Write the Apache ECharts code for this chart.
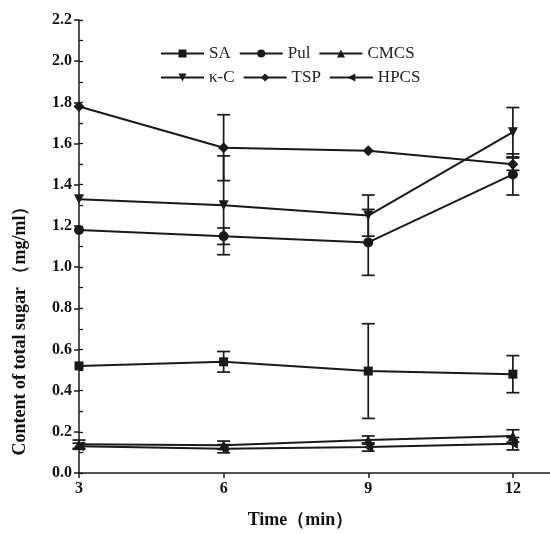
<!DOCTYPE html>
<html>
<head>
<meta charset="utf-8">
<script src="https://cdn.jsdelivr.net/npm/echarts@6/dist/echarts.min.js"></script>
<style>
  html, body { margin: 0; padding: 0; background: #fff; }
  #chart { width: 550px; height: 534px; }
</style>
</head>
<body>
<div id="chart"></div>
<script>
  // time points (min)
  var times = [3, 6, 9, 12]
  var xTicks = [3, 6, 9, 12]

  // total sugar content (mg/ml) and error bars
  var SA = [0.52, 0.54, 0.495, 0.48]
  var SAErr = [0, 0.05, 0.23, 0.09]
  var Pul = [1.18, 1.15, 1.12, 1.45]
  var PulErr = [0, 0.04, 0.16, 0.1]
  var CMCS = [0.14, 0.135, 0.16, 0.18]
  var CMCSErr = [0.02, 0.02, 0.02, 0.03]
  var KC = [1.33, 1.3, 1.25, 1.655]
  var KCErr = [0, 0.24, 0.1, 0.12]
  var TSP = [1.78, 1.58, 1.565, 1.5]
  var TSPErr = [0, 0.16, 0, 0.03]
  var HPCS = [0.13, 0.118, 0.126, 0.142]
  var HPCSErr = [0.015, 0.02, 0.02, 0.03]

  var ink = '#1a1a1a'
  var font = 'Liberation Serif'

  function pairs(ys) {
    return times.map(function (t, i) { return [t, ys[i]] })
  }
  function errData(ys, es) {
    return times.map(function (t, i) { return [t, ys[i], es[i]] })
  }

  function lineSeries(name, ys, symbol, rotate, size) {
    return {
      name: name,
      type: 'line',
      data: pairs(ys),
      symbol: symbol,
      symbolSize: size || 9,
      symbolRotate: rotate || 0,
      itemStyle: { color: ink },
      lineStyle: { color: ink, width: 2 },
      z: 3
    }
  }

  function errSeries(name, ys, es) {
    return {
      name: name + ' err',
      type: 'custom',
      data: errData(ys, es),
      z: 2,
      renderItem: function (params, api) {
        var e = api.value(2)
        if (!e) return
        var x = api.value(0), y = api.value(1)
        var hi = api.coord([x, y + e])
        var lo = api.coord([x, y - e])
        var w = 6.5
        var st = { stroke: ink, lineWidth: 1.7 }
        return {
          type: 'group',
          children: [
            { type: 'line', shape: { x1: hi[0], y1: hi[1], x2: lo[0], y2: lo[1] }, style: st },
            { type: 'line', shape: { x1: hi[0] - w, y1: hi[1], x2: hi[0] + w, y2: hi[1] }, style: st },
            { type: 'line', shape: { x1: lo[0] - w, y1: lo[1], x2: lo[0] + w, y2: lo[1] }, style: st }
          ]
        }
      }
    }
  }

  var legendBase = {
    orient: 'horizontal',
    left: 155,
    itemWidth: 43,
    itemHeight: 10,
    itemGap: 8,
    textStyle: { fontFamily: font, fontSize: 17, color: '#222', width: 38 },
    selectedMode: false
  }

  var chart = echarts.init(document.getElementById('chart'))
  chart.setOption({
    backgroundColor: '#fff',
    animation: false,
    grid: { left: 79, right: 0, top: 20, bottom: 59 },
    legend: [
      Object.assign({}, legendBase, { top: 40, data: ['SA', 'Pul', 'CMCS'] }),
      Object.assign({}, legendBase, { top: 64, data: ['κ-C', 'TSP', 'HPCS'] })
    ],
    xAxis: {
      type: 'value',
      min: 3,
      max: 12.77,
      interval: 3,
      name: 'Time（min）',
      nameLocation: 'middle',
      nameGap: 38,
      nameTextStyle: { fontFamily: font, fontSize: 18, fontWeight: 'bold', color: '#111', padding: [0, 28, 0, 0] },
      splitLine: { show: false },
      axisLine: { lineStyle: { color: ink, width: 1.5 } },
      axisTick: { length: 5, lineStyle: { color: ink, width: 1.5 }, customValues: xTicks },
      axisLabel: { fontFamily: font, fontSize: 16, fontWeight: 'bold', color: '#111', margin: 8, customValues: xTicks }
    },
    yAxis: [
      {
        type: 'value',
        min: 0,
        max: 2.2,
        interval: 0.2,
        name: 'Content of total sugar （mg/ml）',
        nameLocation: 'middle',
        nameGap: 50,
        nameTextStyle: { fontFamily: font, fontSize: 18, fontWeight: 'bold', color: '#111', padding: [0, 160, 0, 0] },
        splitLine: { show: false },
        axisLine: { lineStyle: { color: ink, width: 1.5 } },
        axisTick: { length: 5, lineStyle: { color: ink, width: 1.5 } },
        axisLabel: {
          fontFamily: font, fontSize: 16, fontWeight: 'bold', color: '#111', margin: 7,
          formatter: function (v) { return v.toFixed(1) }
        }
      },
      {
        type: 'value',
        position: 'left',
        min: 0,
        max: 2.2,
        interval: 0.1,
        splitLine: { show: false },
        axisLine: { show: false },
        axisTick: { inside: true, length: 4, lineStyle: { color: ink, width: 1.3 } },
        axisLabel: { show: false }
      }
    ],
    series: [
      lineSeries('SA', SA, 'rect', 0, 9),
      lineSeries('Pul', Pul, 'circle', 0, 10),
      lineSeries('CMCS', CMCS, 'triangle', 0, 10),
      lineSeries('κ-C', KC, 'triangle', 180, 10),
      lineSeries('TSP', TSP, 'diamond', 0, 11),
      lineSeries('HPCS', HPCS, 'triangle', 90, 10),
      errSeries('SA', SA, SAErr),
      errSeries('Pul', Pul, PulErr),
      errSeries('CMCS', CMCS, CMCSErr),
      errSeries('κ-C', KC, KCErr),
      errSeries('TSP', TSP, TSPErr),
      errSeries('HPCS', HPCS, HPCSErr)
    ]
  })
</script>
</body>
</html>
